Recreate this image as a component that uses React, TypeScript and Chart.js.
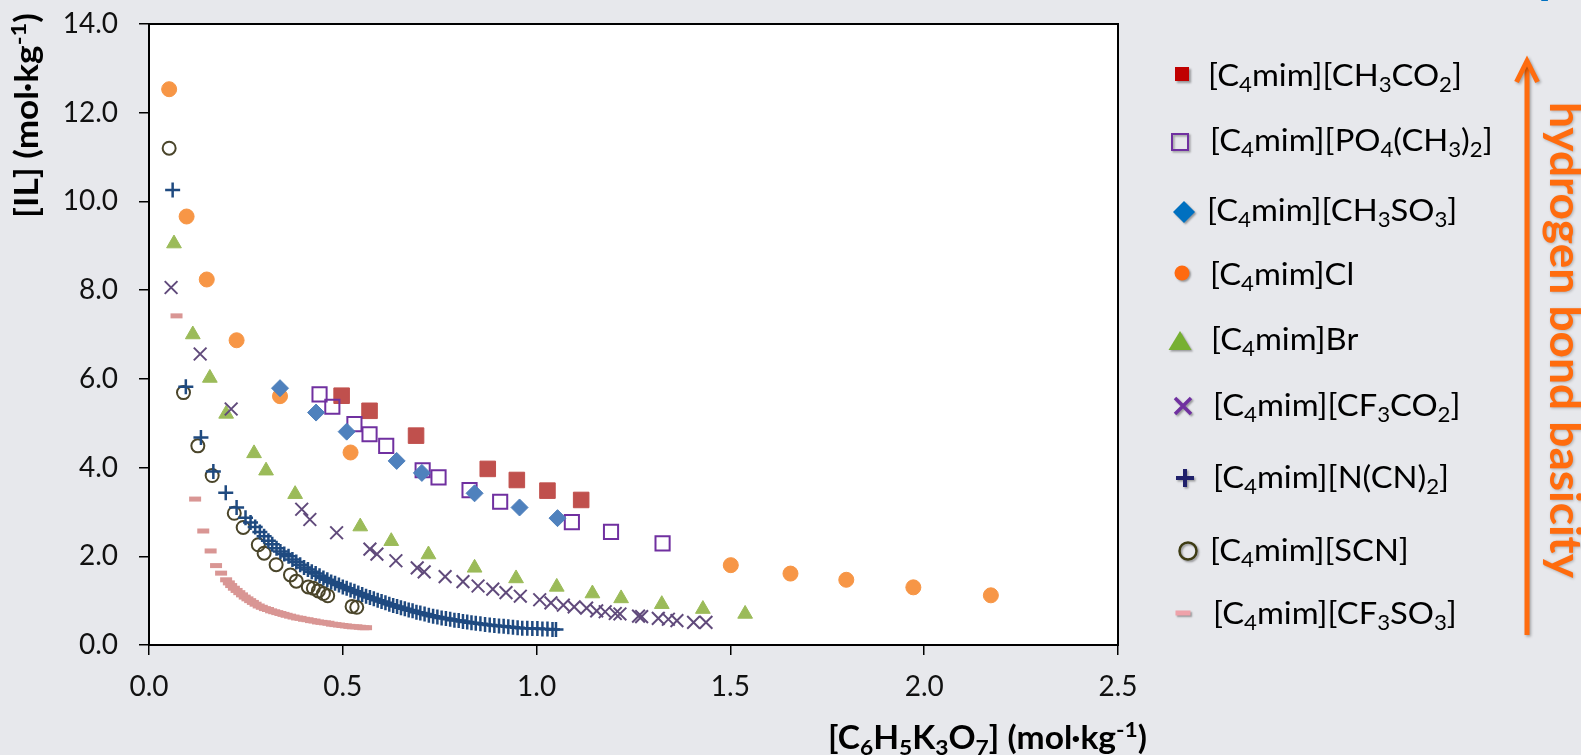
import React, { useEffect, useRef } from 'react';
import { Chart, registerables } from 'chart.js';

Chart.register(...registerables);

type Pt = [number, number];
type Seg = { t: string; sub?: boolean; sup?: boolean };

// ---- series values: [citrate molality, IL molality] (mol·kg⁻¹) ----
const acetate: Pt[] = [
  [0.497, 5.62], [0.569, 5.28], [0.689, 4.72], [0.874, 3.97], [0.949, 3.72], [1.028, 3.48], [1.115, 3.27],
];
const dimethylPhosphate: Pt[] = [
  [0.44, 5.65], [0.473, 5.37], [0.53, 4.98], [0.569, 4.75], [0.612, 4.49], [0.706, 3.94], [0.747, 3.78],
  [0.827, 3.49], [0.906, 3.23], [1.091, 2.77], [1.192, 2.55], [1.325, 2.29],
];
const methanesulfonate: Pt[] = [
  [0.338, 5.79], [0.431, 5.24], [0.51, 4.81], [0.639, 4.15], [0.704, 3.88], [0.84, 3.42], [0.956, 3.1], [1.054, 2.86],
];
const chloride: Pt[] = [
  [0.052, 12.53], [0.097, 9.66], [0.149, 8.24], [0.226, 6.87], [0.338, 5.61], [0.52, 4.34],
  [1.501, 1.8], [1.655, 1.61], [1.799, 1.47], [1.972, 1.3], [2.172, 1.12],
];
const bromide: Pt[] = [
  [0.0645, 9.05], [0.113, 7.0], [0.157, 6.02], [0.199, 5.21], [0.271, 4.32], [0.302, 3.93], [0.377, 3.4],
  [0.545, 2.67], [0.625, 2.34], [0.721, 2.04], [0.84, 1.74], [0.947, 1.5], [1.052, 1.31], [1.144, 1.16],
  [1.218, 1.05], [1.323, 0.92], [1.429, 0.81], [1.538, 0.7],
];
const trifluoroacetate: Pt[] = [
  [0.057, 8.06], [0.132, 6.56], [0.212, 5.32], [0.394, 3.06], [0.415, 2.83], [0.484, 2.53], [0.57, 2.16],
  [0.588, 2.05], [0.637, 1.9], [0.692, 1.74], [0.71, 1.65], [0.764, 1.54], [0.81, 1.43], [0.849, 1.33],
  [0.887, 1.26], [0.921, 1.18], [0.958, 1.1], [1.008, 1.02], [1.037, 0.95], [1.069, 0.9], [1.097, 0.86],
  [1.129, 0.83], [1.155, 0.77], [1.177, 0.75], [1.203, 0.71], [1.215, 0.7], [1.263, 0.65], [1.271, 0.64],
  [1.314, 0.6], [1.34, 0.58], [1.362, 0.55], [1.405, 0.51], [1.437, 0.51],
];
const dicyanamide: Pt[] = [
  [0.061, 10.26], [0.095, 5.82], [0.134, 4.68], [0.166, 3.91], [0.198, 3.43], [0.226, 3.1], [0.249, 2.87],
  [0.262, 2.76], [0.274, 2.66], [0.286, 2.55], [0.297, 2.45], [0.308, 2.35], [0.318, 2.27], [0.329, 2.18],
  [0.339, 2.11], [0.349, 2.05], [0.36, 2.0], [0.37, 1.93], [0.38, 1.87], [0.39, 1.81], [0.4, 1.75],
  [0.41, 1.7], [0.42, 1.65], [0.43, 1.61], [0.44, 1.56], [0.45, 1.51], [0.46, 1.47], [0.47, 1.42],
  [0.48, 1.39], [0.49, 1.35], [0.5, 1.31], [0.51, 1.28], [0.52, 1.24], [0.53, 1.21], [0.54, 1.17],
  [0.55, 1.14], [0.56, 1.1], [0.57, 1.07], [0.58, 1.04], [0.59, 1.01], [0.6, 0.98], [0.61, 0.95],
  [0.62, 0.92], [0.63, 0.89], [0.64, 0.87], [0.65, 0.84], [0.66, 0.82], [0.67, 0.79], [0.68, 0.77],
  [0.69, 0.74], [0.7, 0.72], [0.711, 0.7], [0.722, 0.67], [0.733, 0.65], [0.744, 0.63], [0.755, 0.61],
  [0.766, 0.6], [0.777, 0.58], [0.788, 0.56], [0.799, 0.55], [0.81, 0.53], [0.821, 0.52], [0.832, 0.5],
  [0.843, 0.49], [0.855, 0.48], [0.867, 0.46], [0.879, 0.45], [0.891, 0.44], [0.903, 0.43], [0.915, 0.42],
  [0.927, 0.41], [0.939, 0.4], [0.951, 0.39], [0.963, 0.38], [0.976, 0.38], [0.989, 0.37], [1.002, 0.37],
  [1.015, 0.36], [1.028, 0.36], [1.041, 0.35], [1.05, 0.35],
];
const thiocyanate: Pt[] = [
  [0.052, 11.2], [0.089, 5.69], [0.126, 4.49], [0.163, 3.82], [0.22, 2.97], [0.243, 2.65], [0.282, 2.26],
  [0.297, 2.07], [0.328, 1.81], [0.365, 1.58], [0.38, 1.44], [0.411, 1.31], [0.424, 1.28], [0.437, 1.22],
  [0.45, 1.16], [0.461, 1.11], [0.524, 0.87], [0.536, 0.85],
];
const triflate: Pt[] = [
  [0.071, 7.42], [0.119, 3.29], [0.14, 2.57], [0.159, 2.12], [0.173, 1.79], [0.186, 1.62], [0.199, 1.47],
  [0.206, 1.4], [0.212, 1.34], [0.219, 1.28], [0.226, 1.23], [0.233, 1.18], [0.24, 1.13], [0.247, 1.08],
  [0.254, 1.04], [0.261, 1.0], [0.268, 0.96], [0.275, 0.92], [0.283, 0.88], [0.291, 0.85], [0.299, 0.82],
  [0.307, 0.8], [0.315, 0.77], [0.323, 0.75], [0.331, 0.73], [0.339, 0.71], [0.347, 0.69], [0.355, 0.67],
  [0.364, 0.65], [0.373, 0.63], [0.382, 0.61], [0.391, 0.6], [0.4, 0.58], [0.409, 0.57], [0.418, 0.55],
  [0.427, 0.54], [0.436, 0.52], [0.445, 0.51], [0.454, 0.5], [0.463, 0.49], [0.472, 0.47], [0.481, 0.46],
  [0.49, 0.45], [0.499, 0.44], [0.508, 0.43], [0.517, 0.42], [0.526, 0.41], [0.535, 0.41], [0.544, 0.4],
  [0.553, 0.39], [0.56, 0.39],
];

// ---- ticks ----
const xTickValues = [0, 0.5, 1, 1.5, 2, 2.5];
const xTickLabels = ['0.0', '0.5', '1.0', '1.5', '2.0', '2.5'];
const yTickValues = [0, 2, 4, 6, 8, 10, 12, 14];
const yTickLabels = ['0.0', '2.0', '4.0', '6.0', '8.0', '10.0', '12.0', '14.0'];

// ---- text ----
const seriesNames: Seg[][] = [
  [{ t: '[C' }, { t: '4', sub: true }, { t: 'mim][CH' }, { t: '3', sub: true }, { t: 'CO' }, { t: '2', sub: true }, { t: ']' }],
  [{ t: '[C' }, { t: '4', sub: true }, { t: 'mim][PO' }, { t: '4', sub: true }, { t: '(CH' }, { t: '3', sub: true }, { t: ')' }, { t: '2', sub: true }, { t: ']' }],
  [{ t: '[C' }, { t: '4', sub: true }, { t: 'mim][CH' }, { t: '3', sub: true }, { t: 'SO' }, { t: '3', sub: true }, { t: ']' }],
  [{ t: '[C' }, { t: '4', sub: true }, { t: 'mim]Cl' }],
  [{ t: '[C' }, { t: '4', sub: true }, { t: 'mim]Br' }],
  [{ t: '[C' }, { t: '4', sub: true }, { t: 'mim][CF' }, { t: '3', sub: true }, { t: 'CO' }, { t: '2', sub: true }, { t: ']' }],
  [{ t: '[C' }, { t: '4', sub: true }, { t: 'mim][N(CN)' }, { t: '2', sub: true }, { t: ']' }],
  [{ t: '[C' }, { t: '4', sub: true }, { t: 'mim][SCN]' }],
  [{ t: '[C' }, { t: '4', sub: true }, { t: 'mim][CF' }, { t: '3', sub: true }, { t: 'SO' }, { t: '3', sub: true }, { t: ']' }],
];
const xTitle: Seg[] = [
  { t: '[C' }, { t: '6', sub: true }, { t: 'H' }, { t: '5', sub: true }, { t: 'K' }, { t: '3', sub: true },
  { t: 'O' }, { t: '7', sub: true }, { t: '] (mol·kg' }, { t: '-1', sup: true }, { t: ')' },
];
const yTitle: Seg[] = [{ t: '[IL] (mol·kg' }, { t: '-1', sup: true }, { t: ')' }];
const sideNote = 'hydrogen bond basicity';
const cornerNote: Seg[] = [{ t: '[C' }, { t: '4', sub: true }];

// ---- styling ----
const FAMILY = 'Lato, "Open Sans", "DejaVu Sans", sans-serif';
const PAGE_BG = '#E7E8EC';
const ORANGE = '#FF6C0E';

type MarkerKind = 'square' | 'squareOpen' | 'diamond' | 'dot' | 'triangle' | 'x' | 'plus' | 'ring' | 'dash';

// legend rows: marker kind/colour, marker centre, text origin (left, baseline)
const legendRows: { kind: MarkerKind; color: string; mx: number; my: number; tx: number; ty: number }[] = [
  { kind: 'square', color: '#C00000', mx: 1182, my: 74, tx: 1208, ty: 86 },
  { kind: 'squareOpen', color: '#7030A0', mx: 1180, my: 142, tx: 1210, ty: 151 },
  { kind: 'diamond', color: '#0070C0', mx: 1184, my: 212, tx: 1207, ty: 221 },
  { kind: 'dot', color: '#FF6A10', mx: 1182, my: 273, tx: 1210, ty: 285 },
  { kind: 'triangle', color: '#77B032', mx: 1180, my: 341, tx: 1211, ty: 350 },
  { kind: 'x', color: '#7030A0', mx: 1183, my: 406, tx: 1213, ty: 416 },
  { kind: 'plus', color: '#20206A', mx: 1185, my: 478, tx: 1213, ty: 488 },
  { kind: 'ring', color: '#3E3C14', mx: 1188, my: 551, tx: 1210, ty: 561 },
  { kind: 'dash', color: '#EFA2AA', mx: 1183, my: 613, tx: 1213, ty: 624 },
];

function segFont(size: number, weight: string, s: Seg) {
  const sz = s.sub || s.sup ? size * 0.68 : size;
  return `${weight} ${sz}px ${FAMILY}`;
}

function richWidth(ctx: CanvasRenderingContext2D, segs: Seg[], size: number, weight: string) {
  let w = 0;
  for (const s of segs) {
    ctx.font = segFont(size, weight, s);
    w += ctx.measureText(s.t).width;
  }
  return w;
}

// draws rich text at the current origin, left/baseline aligned, squeezed horizontally by sx
function drawRich(ctx: CanvasRenderingContext2D, segs: Seg[], size: number, weight: string, color: string, sx: number) {
  ctx.save();
  ctx.scale(sx, 1);
  ctx.fillStyle = color;
  ctx.textAlign = 'left';
  ctx.textBaseline = 'alphabetic';
  let x = 0;
  for (const s of segs) {
    ctx.font = segFont(size, weight, s);
    const dy = s.sub ? size * 0.2 : s.sup ? -size * 0.36 : 0;
    ctx.fillText(s.t, x, dy);
    x += ctx.measureText(s.t).width;
  }
  ctx.restore();
}

function legendMarker(ctx: CanvasRenderingContext2D, kind: MarkerKind, color: string, x: number, y: number) {
  ctx.save();
  ctx.shadowColor = 'rgba(0,0,0,0.35)';
  ctx.shadowBlur = 2;
  ctx.shadowOffsetX = 1.5;
  ctx.shadowOffsetY = 1.5;
  ctx.fillStyle = color;
  ctx.strokeStyle = color;
  ctx.beginPath();
  switch (kind) {
    case 'square':
      ctx.fillRect(x - 7, y - 7, 14, 14);
      break;
    case 'squareOpen':
      ctx.lineWidth = 2;
      ctx.strokeRect(x - 8, y - 8, 16, 16);
      break;
    case 'diamond':
      ctx.moveTo(x - 11, y);
      ctx.lineTo(x, y - 11);
      ctx.lineTo(x + 11, y);
      ctx.lineTo(x, y + 11);
      ctx.closePath();
      ctx.fill();
      break;
    case 'dot':
      ctx.arc(x, y, 7.5, 0, Math.PI * 2);
      ctx.fill();
      break;
    case 'triangle':
      ctx.moveTo(x, y - 10);
      ctx.lineTo(x + 11.5, y + 9);
      ctx.lineTo(x - 11.5, y + 9);
      ctx.closePath();
      ctx.fill();
      break;
    case 'x':
      ctx.lineWidth = 3.5;
      ctx.moveTo(x - 8, y - 8);
      ctx.lineTo(x + 8, y + 8);
      ctx.moveTo(x + 8, y - 8);
      ctx.lineTo(x - 8, y + 8);
      ctx.stroke();
      break;
    case 'plus':
      ctx.lineWidth = 4;
      ctx.moveTo(x - 9, y);
      ctx.lineTo(x + 9, y);
      ctx.moveTo(x, y - 9);
      ctx.lineTo(x, y + 9);
      ctx.stroke();
      break;
    case 'ring':
      ctx.lineWidth = 2.5;
      ctx.arc(x, y, 8.5, 0, Math.PI * 2);
      ctx.stroke();
      break;
    case 'dash':
      ctx.fillRect(x - 7.5, y - 2.5, 15, 5);
      break;
  }
  ctx.restore();
}

const decor = {
  id: 'decor',
  beforeDraw(chart: any) {
    const { ctx, chartArea: a, width, height } = chart;
    ctx.save();
    ctx.fillStyle = PAGE_BG;
    ctx.fillRect(0, 0, width, height);
    ctx.fillStyle = '#FFFFFF';
    ctx.fillRect(a.left, a.top, a.right - a.left, a.bottom - a.top);
    ctx.restore();
  },
  beforeDatasetsDraw(chart: any) {
    const { ctx, chartArea: a } = chart;
    ctx.save();
    ctx.strokeStyle = '#000';
    ctx.lineWidth = 2;
    ctx.strokeRect(a.left, a.top, a.right - a.left, a.bottom - a.top);
    ctx.restore();
  },
  afterDraw(chart: any) {
    const ctx: CanvasRenderingContext2D = chart.ctx;

    // y axis title, reading upwards
    ctx.save();
    ctx.translate(38, 218);
    ctx.rotate(-Math.PI / 2);
    const yw = richWidth(ctx, yTitle, 32, 'bold');
    drawRich(ctx, yTitle, 32, 'bold', '#000', 205 / yw);
    ctx.restore();

    // x axis title
    ctx.save();
    ctx.translate(828, 749);
    const xw = richWidth(ctx, xTitle, 32, 'bold');
    drawRich(ctx, xTitle, 32, 'bold', '#000', 319 / xw);
    ctx.restore();

    // legend
    const lw = richWidth(ctx, seriesNames[0], 30.5, 'normal');
    const lsx = 254 / lw;
    legendRows.forEach((row, i) => {
      legendMarker(ctx, row.kind, row.color, row.mx, row.my);
      ctx.save();
      ctx.translate(row.tx, row.ty);
      drawRich(ctx, seriesNames[i], 30.5, 'normal', '#000', lsx);
      ctx.restore();
    });

    // basicity arrow
    ctx.save();
    ctx.shadowColor = 'rgba(0,0,0,0.3)';
    ctx.shadowBlur = 3;
    ctx.shadowOffsetX = 1.5;
    ctx.shadowOffsetY = 1.5;
    ctx.strokeStyle = ORANGE;
    ctx.lineWidth = 5;
    ctx.beginPath();
    ctx.moveTo(1527, 635);
    ctx.lineTo(1527, 63);
    ctx.stroke();
    ctx.beginPath();
    ctx.lineJoin = 'miter';
    ctx.moveTo(1516.5, 82);
    ctx.lineTo(1527, 61);
    ctx.lineTo(1537.5, 82);
    ctx.stroke();
    ctx.restore();

    // rotated note beside the arrow
    ctx.save();
    ctx.shadowColor = 'rgba(0,0,0,0.25)';
    ctx.shadowBlur = 3;
    ctx.shadowOffsetX = 1;
    ctx.shadowOffsetY = 1;
    ctx.translate(1550, 102);
    ctx.rotate(Math.PI / 2);
    const noteSeg: Seg[] = [{ t: sideNote }];
    const nw = richWidth(ctx, noteSeg, 44, 'bold');
    drawRich(ctx, noteSeg, 44, 'bold', ORANGE, 476 / nw);
    ctx.restore();

    // heading fragment at the top edge
    ctx.save();
    ctx.translate(1538, -4);
    drawRich(ctx, cornerNote, 36, 'normal', '#0070C0', 1);
    ctx.restore();
  },
};

function toXY(pts: Pt[]) {
  return pts.map(([x, y]) => ({ x, y }));
}

export default function App() {
  const canvasRef = useRef<HTMLCanvasElement | null>(null);

  useEffect(() => {
    const canvas = canvasRef.current;
    if (!canvas) return;

    const clear = 'rgba(0,0,0,0)';
    const chart = new Chart(canvas, {
      type: 'scatter',
      data: {
        datasets: [
          { label: '[C4mim][CH3CO2]', data: toXY(acetate), pointStyle: 'rect', pointRadius: 11, pointBorderWidth: 1, pointBackgroundColor: '#C0504D', pointBorderColor: '#C0504D', order: 3 },
          { label: '[C4mim][PO4(CH3)2]', data: toXY(dimethylPhosphate), pointStyle: 'rect', pointRadius: 10, pointBorderWidth: 2, pointBackgroundColor: clear, pointBorderColor: '#7030A0', order: 2 },
          { label: '[C4mim][CH3SO3]', data: toXY(methanesulfonate), pointStyle: 'rectRot', pointRadius: 8.5, pointBorderWidth: 1, pointBackgroundColor: '#4F81BD', pointBorderColor: '#4F81BD', order: 1 },
          { label: '[C4mim]Cl', data: toXY(chloride), pointStyle: 'circle', pointRadius: 7.5, pointBorderWidth: 1, pointBackgroundColor: '#F79646', pointBorderColor: '#F79646', order: 5 },
          { label: '[C4mim]Br', data: toXY(bromide), pointStyle: 'triangle', pointRadius: 8.5, pointBorderWidth: 1, pointBackgroundColor: '#9BBB59', pointBorderColor: '#9BBB59', order: 4 },
          { label: '[C4mim][CF3CO2]', data: toXY(trifluoroacetate), pointStyle: 'crossRot', pointRadius: 9, pointBorderWidth: 2, pointBackgroundColor: '#604A7B', pointBorderColor: '#604A7B', order: 2 },
          { label: '[C4mim][N(CN)2]', data: toXY(dicyanamide), pointStyle: 'cross', pointRadius: 7.5, pointBorderWidth: 2.5, pointBackgroundColor: '#1F4A80', pointBorderColor: '#1F4A80', order: 1 },
          { label: '[C4mim][SCN]', data: toXY(thiocyanate), pointStyle: 'circle', pointRadius: 6.5, pointBorderWidth: 2, pointBackgroundColor: clear, pointBorderColor: '#4A452A', order: 3 },
          { label: '[C4mim][CF3SO3]', data: toXY(triflate), pointStyle: 'line', pointRadius: 6, pointBorderWidth: 5, pointBackgroundColor: '#D99694', pointBorderColor: '#D99694', order: 6 },
        ] as any,
      },
      options: {
        responsive: false,
        animation: false,
        devicePixelRatio: 1,
        events: [],
        layout: { padding: { left: 0, top: 24, right: 463, bottom: 0 } },
        plugins: { legend: { display: false }, tooltip: { enabled: false } },
        scales: {
          x: {
            type: 'linear',
            position: 'bottom',
            min: 0,
            max: 2.5,
            afterBuildTicks: (s: any) => {
              s.ticks = xTickValues.map((value) => ({ value }));
            },
            afterFit: (s: any) => {
              s.height = 110;
              s.paddingLeft = 0;
              s.paddingRight = 0;
            },
            ticks: {
              callback: (_v: any, i: number) => xTickLabels[i],
              font: { family: FAMILY, size: 28 },
              color: '#111',
              padding: 15,
              maxRotation: 0,
            },
            grid: { drawOnChartArea: false, drawTicks: true, tickLength: 10, color: '#000', lineWidth: 1.5 },
            border: { display: false },
          },
          y: {
            type: 'linear',
            position: 'left',
            min: 0,
            max: 14,
            afterBuildTicks: (s: any) => {
              s.ticks = yTickValues.map((value) => ({ value }));
            },
            afterFit: (s: any) => {
              s.width = 149;
              s.paddingTop = 0;
              s.paddingBottom = 0;
            },
            ticks: {
              callback: (_v: any, i: number) => yTickLabels[i],
              font: { family: FAMILY, size: 28 },
              color: '#111',
              padding: 21,
            },
            grid: { drawOnChartArea: false, drawTicks: true, tickLength: 10, color: '#000', lineWidth: 1.5 },
            border: { display: false },
          },
        },
      } as any,
      plugins: [decor],
    });

    return () => chart.destroy();
  }, []);

  return (
    <div style={{ position: 'absolute', left: 0, top: 0, width: 1581, height: 755, background: PAGE_BG, overflow: 'hidden' }}>
      <canvas ref={canvasRef} width={1581} height={755} style={{ display: 'block' }} />
    </div>
  );
}
